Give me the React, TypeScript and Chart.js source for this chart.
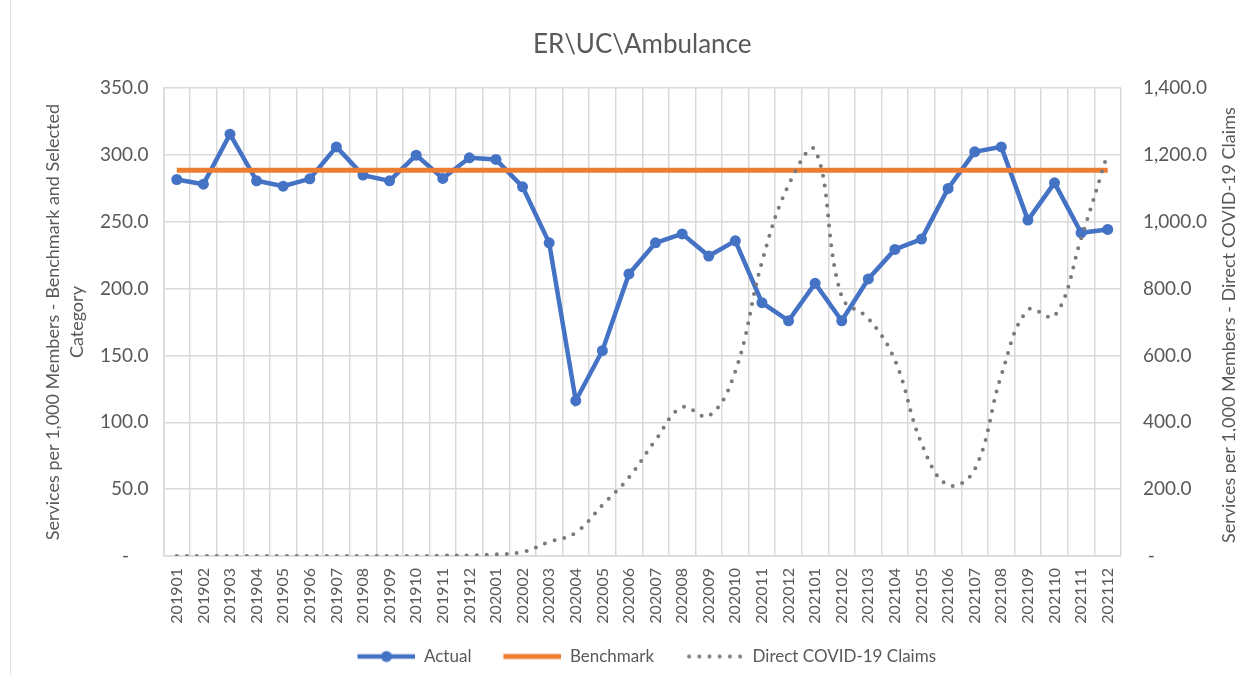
import React, { useEffect, useRef } from 'react';
import { Chart, registerables } from 'chart.js';

Chart.register(...registerables);

const categories = [
  '201901', '201902', '201903', '201904', '201905', '201906', '201907', '201908', '201909', '201910', '201911', '201912',
  '202001', '202002', '202003', '202004', '202005', '202006', '202007', '202008', '202009', '202010', '202011', '202012',
  '202101', '202102', '202103', '202104', '202105', '202106', '202107', '202108', '202109', '202110', '202111', '202112',
];

const actual = [
  281.7, 278.2, 315.6, 280.7, 276.7, 282.2, 306.1, 285.0, 280.7, 299.9, 282.5, 297.9,
  296.7, 276.2, 234.3, 116.2, 153.6, 211.0, 234.3, 241.0, 224.4, 235.8, 189.5, 176.0,
  204.0, 176.0, 207.3, 229.4, 237.1, 275.0, 302.4, 306.1, 251.3, 279.2, 241.8, 244.3,
];

const benchmark = [
  288.7, 288.7, 288.7, 288.7, 288.7, 288.7, 288.7, 288.7, 288.7, 288.7, 288.7, 288.7,
  288.7, 288.7, 288.7, 288.7, 288.7, 288.7, 288.7, 288.7, 288.7, 288.7, 288.7, 288.7,
  288.7, 288.7, 288.7, 288.7, 288.7, 288.7, 288.7, 288.7, 288.7, 288.7, 288.7, 288.7,
];

const covidClaims = [
  0, 0, 0, 0, 0, 0, 0, 0, 0, 0, 1, 2,
  5, 12, 42, 70, 152, 235, 347, 445, 419, 553, 880, 1110,
  1215, 776, 711, 586, 337, 212, 259, 541, 736, 718, 950, 1205,
];

const seriesNames = ['Actual', 'Benchmark', 'Direct COVID-19 Claims'];
const chartTitle = 'ER\\UC\\Ambulance';
const leftAxisTitle = ['Services per 1,000 Members - Benchmark and Selected', 'Category'];
const rightAxisTitle = 'Services per 1,000 Members - Direct COVID-19 Claims';

const FONT = 'Lato';
const TEXT = '#595959';
const GRID = '#d9d9d9';
const BLUE = '#4472C4';
const ORANGE = '#ED7D31';
const GREY = '#7a7a7a';

const ICON_MARGIN = 9;
const ICON_W = 58;

function makeIcon(kind: string): HTMLCanvasElement {
  const c = document.createElement('canvas');
  c.width = ICON_W + ICON_MARGIN;
  c.height = 14;
  const ctx = c.getContext('2d')!;
  const cy = 7;
  const x0 = ICON_MARGIN;
  if (kind === 'actual') {
    ctx.strokeStyle = BLUE;
    ctx.lineWidth = 4.5;
    ctx.beginPath();
    ctx.moveTo(x0, cy);
    ctx.lineTo(x0 + ICON_W, cy);
    ctx.stroke();
    ctx.fillStyle = BLUE;
    ctx.beginPath();
    ctx.arc(x0 + ICON_W / 2, cy, 5.5, 0, Math.PI * 2);
    ctx.fill();
  } else if (kind === 'bench') {
    ctx.strokeStyle = ORANGE;
    ctx.lineWidth = 5;
    ctx.beginPath();
    ctx.moveTo(x0, cy);
    ctx.lineTo(x0 + ICON_W, cy);
    ctx.stroke();
  } else {
    ctx.fillStyle = GREY;
    for (let i = 0; i < 6; i++) {
      ctx.beginPath();
      ctx.arc(x0 + 3 + i * 10.2, cy, 2, 0, Math.PI * 2);
      ctx.fill();
    }
  }
  return c;
}

export default function App() {
  const canvasRef = useRef<HTMLCanvasElement | null>(null);

  useEffect(() => {
    if (!canvasRef.current) return;
    const icons = [makeIcon('actual'), makeIcon('bench'), makeIcon('covid')];

    const extras = {
      id: 'extras',
      beforeDraw(chart: any) {
        const ctx = chart.ctx;
        ctx.save();
        ctx.strokeStyle = '#e3e3e3';
        ctx.lineWidth = 1;
        ctx.beginPath();
        ctx.moveTo(10.5, 0);
        ctx.lineTo(10.5, 675);
        ctx.stroke();
        ctx.restore();
      },
      afterDraw(chart: any) {
        const ctx = chart.ctx;
        const area = chart.chartArea;
        ctx.save();
        ctx.translate(1229, (area.top + area.bottom) / 2 + 3);
        ctx.rotate(-Math.PI / 2);
        ctx.font = `18px ${FONT}`;
        ctx.fillStyle = TEXT;
        ctx.textAlign = 'center';
        ctx.textBaseline = 'middle';
        ctx.fillText(rightAxisTitle, 0, 0);
        ctx.restore();
      },
    };

    const chart = new Chart(canvasRef.current, {
      type: 'line',
      data: {
        labels: categories,
        datasets: [
          {
            label: seriesNames[0],
            data: actual,
            yAxisID: 'y',
            borderColor: BLUE,
            backgroundColor: BLUE,
            borderWidth: 4.5,
            pointRadius: 5.5,
            pointBackgroundColor: BLUE,
            pointBorderColor: BLUE,
            pointBorderWidth: 0,
            tension: 0,
            order: 3,
          },
          {
            label: seriesNames[1],
            data: benchmark,
            yAxisID: 'y',
            borderColor: ORANGE,
            backgroundColor: ORANGE,
            borderWidth: 5,
            pointRadius: 0,
            tension: 0,
            order: 2,
          },
          {
            label: seriesNames[2],
            data: covidClaims,
            yAxisID: 'y1',
            borderColor: GREY,
            backgroundColor: GREY,
            borderWidth: 4,
            borderDash: [0, 10],
            borderCapStyle: 'round',
            pointRadius: 0,
            tension: 0.4,
            order: 1,
          },
        ] as any,
      },
      options: {
        responsive: false,
        animation: false,
        devicePixelRatio: 1,
        layout: { padding: { left: 0, right: 0, top: 0, bottom: 0 } },
        plugins: {
          tooltip: { enabled: false },
          title: {
            display: true,
            text: chartTitle,
            fullSize: false,
            color: TEXT,
            font: { family: FONT, size: 26, weight: 'normal' },
            padding: { top: 29, bottom: 28 },
          },
          legend: {
            display: true,
            position: 'bottom',
            fullSize: false,
            labels: {
              usePointStyle: true,
              pointStyleWidth: ICON_W + ICON_MARGIN,
              padding: 23,
              color: TEXT,
              font: { family: FONT, size: 17 },
              generateLabels: () =>
                seriesNames.map((name, i) => ({
                  text: name,
                  pointStyle: icons[i] as any,
                  fillStyle: 'transparent',
                  strokeStyle: 'transparent',
                  lineWidth: 0,
                  hidden: false,
                  datasetIndex: i,
                  fontColor: TEXT,
                })),
            },
          },
        },
        scales: {
          x: {
            type: 'category',
            offset: true,
            grid: { color: GRID, lineWidth: 1.5, drawTicks: false, offset: true },
            border: { color: GRID, width: 1.5 },
            ticks: {
              color: TEXT,
              font: { family: FONT, size: 16 },
              minRotation: 90,
              maxRotation: 90,
              autoSkip: false,
              padding: 12,
            },
            afterFit: (s: any) => {
              s.height = 69;
            },
          },
          y: {
            position: 'left',
            min: 0,
            max: 350,
            grid: { color: GRID, lineWidth: 1.5, drawTicks: false },
            border: { color: GRID, width: 1.5 },
            ticks: {
              stepSize: 50,
              color: TEXT,
              font: { family: FONT, size: 19 },
              padding: 15,
              callback: (v: any) => (Number(v) === 0 ? '-    ' : Number(v).toFixed(1)),
            },
            title: {
              display: true,
              text: leftAxisTitle,
              color: TEXT,
              font: { family: FONT, size: 18, lineHeight: 1.33 },
              padding: { top: 41, bottom: 0 },
            },
            afterFit: (s: any) => {
              s.width = 163.5;
            },
          },
          y1: {
            position: 'right',
            min: 0,
            max: 1400,
            grid: { display: false, drawTicks: false },
            border: { display: false },
            ticks: {
              stepSize: 200,
              color: TEXT,
              font: { family: FONT, size: 19 },
              padding: 22,
              callback: (v: any) =>
                Number(v) === 0
                  ? ' -'
                  : Number(v).toLocaleString('en-US', { minimumFractionDigits: 1, maximumFractionDigits: 1 }),
            },
            afterFit: (s: any) => {
              s.width = 115;
            },
          },
        },
      } as any,
      plugins: [extras],
    });

    return () => chart.destroy();
  }, []);

  return (
    <div style={{ position: 'absolute', left: 0, top: 0, width: 1236, height: 675, background: '#fff' }}>
      <canvas ref={canvasRef} width={1236} height={675} style={{ display: 'block' }} />
    </div>
  );
}
